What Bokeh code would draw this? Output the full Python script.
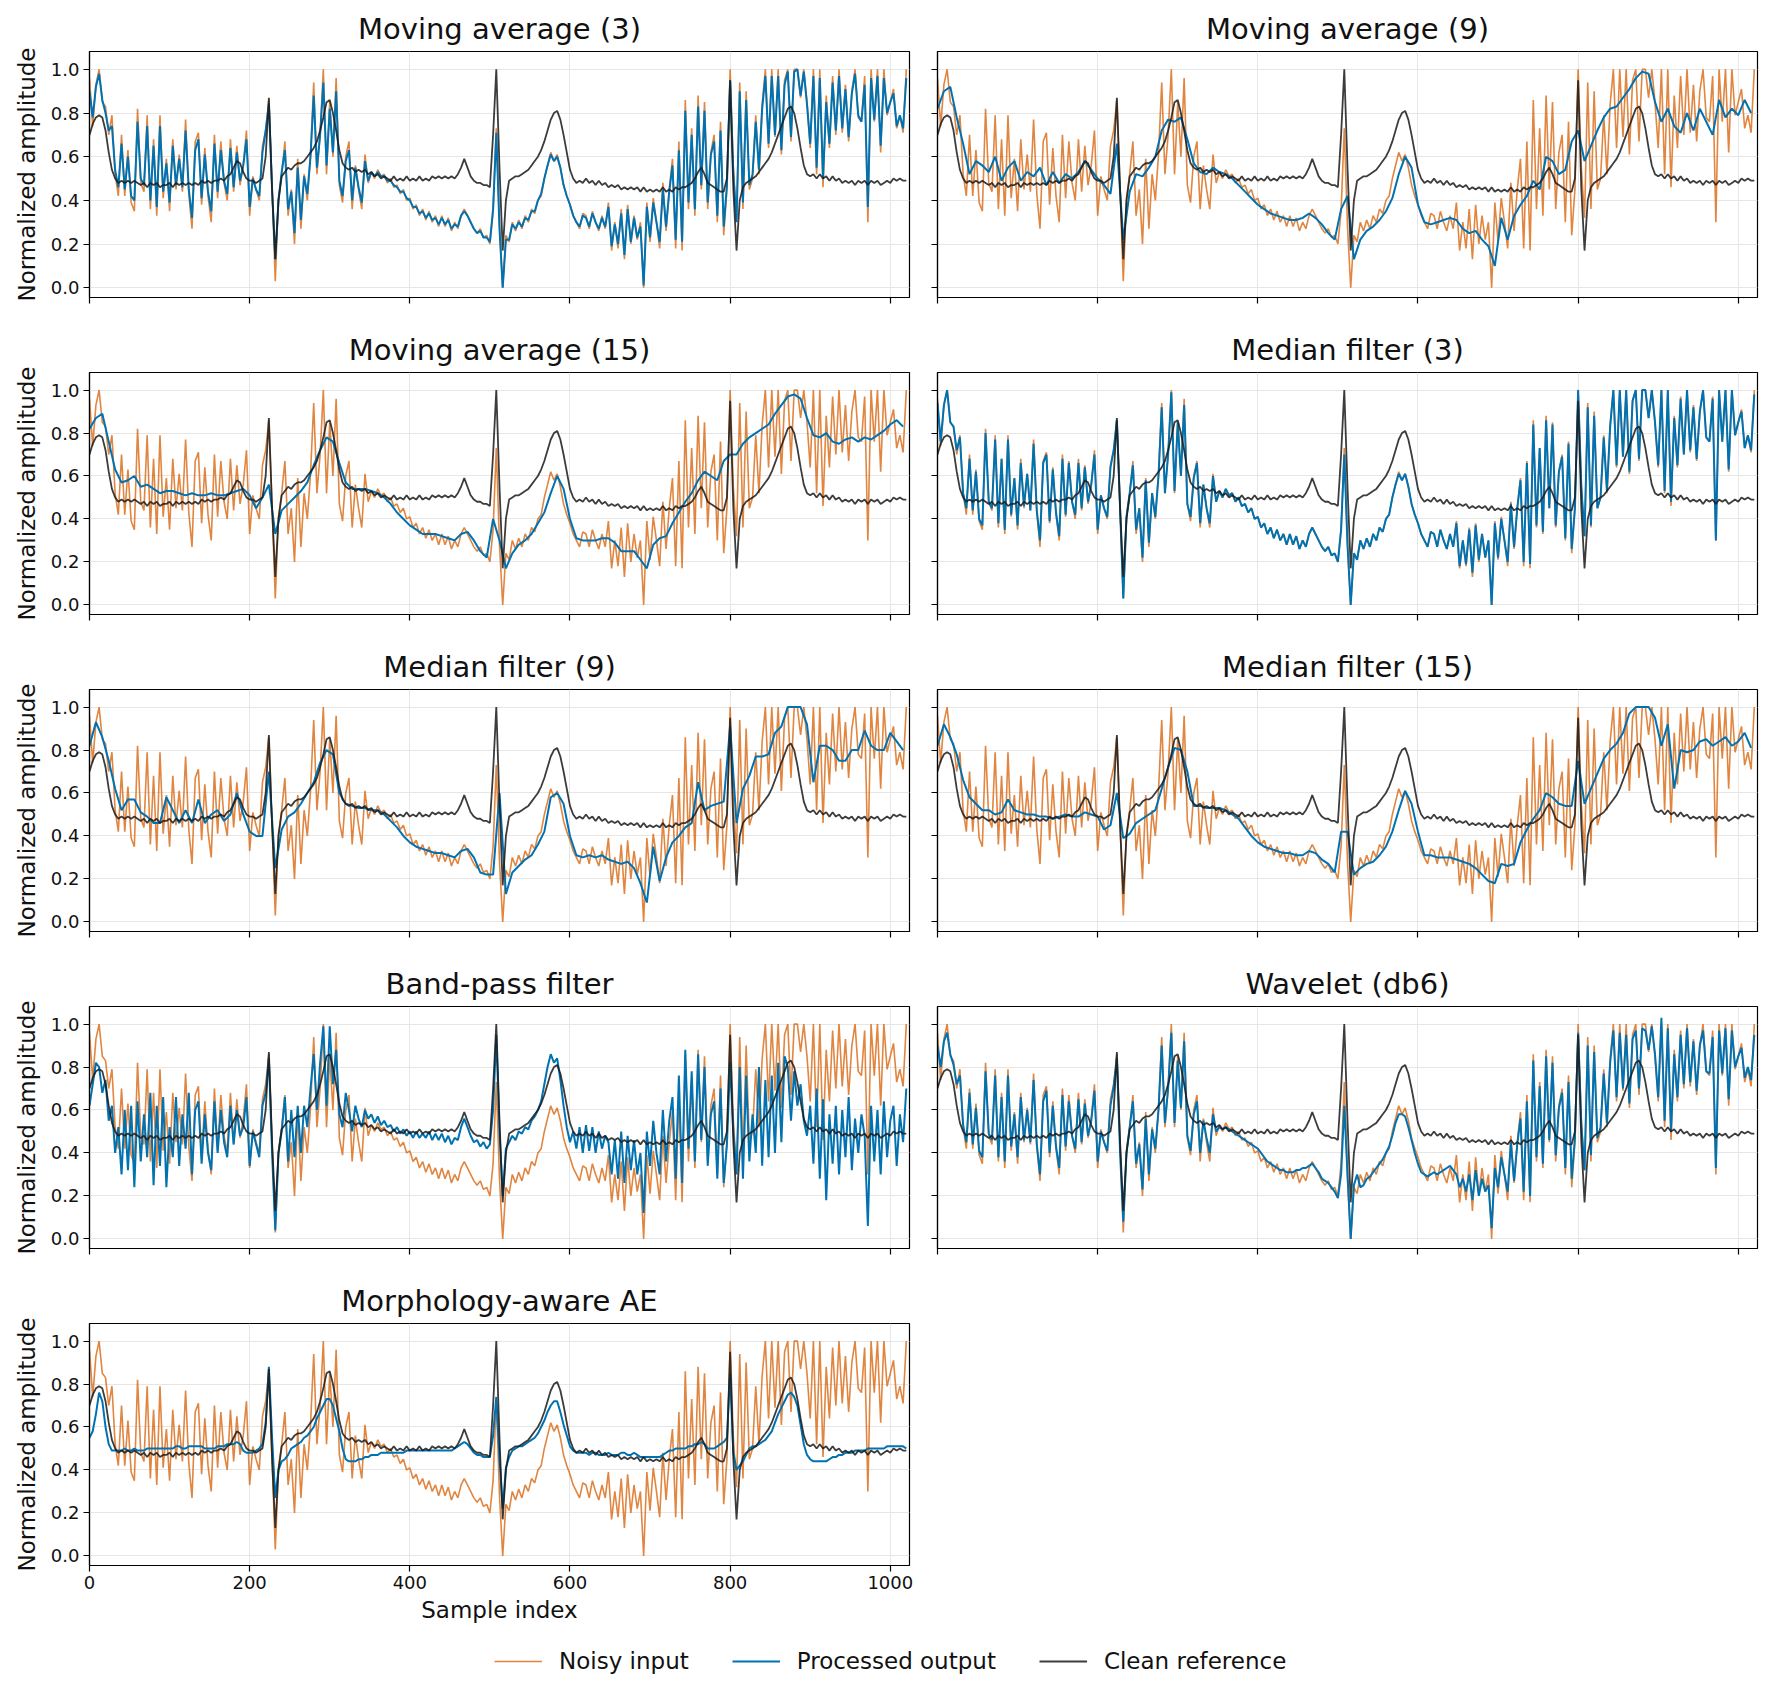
from bokeh.plotting import figure
from bokeh.layouts import column, row
from bokeh.models import (Range1d, FixedTicker, PrintfTickFormatter, CustomJSTickFormatter,
                          Legend, LegendItem)
from bokeh.embed import file_html
from bokeh.resources import INLINE

# sample positions: most series read every 4th sample, smoother outputs every 8th
idx4 = list(range(0, 1024, 4))
idx8 = list(range(0, 1024, 8))

clean_reference = [
    0.70, 0.75, 0.78, 0.79, 0.78, 0.72, 0.62, 0.54, 0.50, 0.48, 0.49, 0.48, 0.49, 0.48, 0.49, 0.48,
    0.47, 0.48, 0.46, 0.48, 0.47, 0.48, 0.46, 0.47, 0.47, 0.48, 0.46, 0.48, 0.47, 0.48, 0.47, 0.48,
    0.47, 0.48, 0.47, 0.49, 0.48, 0.49, 0.48, 0.49, 0.49, 0.50, 0.49, 0.51, 0.52, 0.55, 0.58, 0.57,
    0.53, 0.50, 0.49, 0.49, 0.48, 0.49, 0.50, 0.60, 0.87, 0.45, 0.13, 0.40, 0.51, 0.53, 0.55, 0.54,
    0.56, 0.57, 0.57, 0.58, 0.60, 0.62, 0.64, 0.67, 0.72, 0.78, 0.85, 0.86, 0.80, 0.72, 0.63, 0.57,
    0.55, 0.54, 0.55, 0.53, 0.54, 0.53, 0.54, 0.52, 0.53, 0.51, 0.52, 0.50, 0.51, 0.50, 0.49, 0.51,
    0.49, 0.50, 0.49, 0.51, 0.49, 0.50, 0.49, 0.51, 0.49, 0.50, 0.49, 0.51, 0.50, 0.51, 0.50, 0.51,
    0.50, 0.51, 0.50, 0.52, 0.55, 0.59, 0.55, 0.51, 0.49, 0.48, 0.48, 0.47, 0.47, 0.46, 0.70, 1.00,
    0.55, 0.17, 0.40, 0.49, 0.50, 0.51, 0.51, 0.52, 0.53, 0.54, 0.56, 0.58, 0.60, 0.63, 0.67, 0.72,
    0.77, 0.80, 0.81, 0.77, 0.70, 0.62, 0.54, 0.50, 0.48, 0.49, 0.48, 0.50, 0.48, 0.49, 0.47, 0.49,
    0.47, 0.48, 0.46, 0.47, 0.46, 0.47, 0.45, 0.46, 0.45, 0.46, 0.45, 0.46, 0.44, 0.46, 0.44, 0.45,
    0.44, 0.45, 0.44, 0.46, 0.44, 0.45, 0.44, 0.46, 0.45, 0.46, 0.46, 0.47, 0.48, 0.50, 0.53, 0.55,
    0.52, 0.48, 0.47, 0.46, 0.45, 0.44, 0.44, 0.50, 0.95, 0.45, 0.17, 0.40, 0.46, 0.48, 0.49, 0.50,
    0.51, 0.53, 0.55, 0.57, 0.59, 0.62, 0.66, 0.70, 0.74, 0.78, 0.82, 0.83, 0.80, 0.73, 0.64, 0.56,
    0.52, 0.51, 0.52, 0.50, 0.52, 0.50, 0.51, 0.49, 0.51, 0.49, 0.50, 0.48, 0.49, 0.48, 0.49, 0.47,
    0.49, 0.48, 0.49, 0.47, 0.49, 0.48, 0.49, 0.47, 0.48, 0.49, 0.48, 0.50, 0.49, 0.50, 0.49, 0.49,
]

noisy_input = [
    0.96, 0.74, 0.93, 1.00, 0.85, 0.83, 0.70, 0.79, 0.52, 0.42, 0.70, 0.42, 0.63, 0.39, 0.35, 0.82,
    0.48, 0.44, 0.79, 0.36, 0.68, 0.33, 0.79, 0.41, 0.59, 0.35, 0.68, 0.45, 0.61, 0.44, 0.77, 0.43,
    0.27, 0.67, 0.71, 0.38, 0.64, 0.42, 0.30, 0.70, 0.41, 0.67, 0.48, 0.40, 0.68, 0.44, 0.65, 0.47,
    0.56, 0.72, 0.33, 0.51, 0.45, 0.40, 0.65, 0.72, 0.86, 0.45, 0.03, 0.41, 0.52, 0.67, 0.33, 0.45,
    0.20, 0.59, 0.27, 0.52, 0.40, 0.61, 0.94, 0.52, 0.70, 1.00, 0.52, 0.85, 0.60, 0.96, 0.47, 0.39,
    0.60, 0.67, 0.36, 0.56, 0.45, 0.36, 0.61, 0.48, 0.53, 0.50, 0.54, 0.51, 0.52, 0.48, 0.50, 0.46,
    0.47, 0.43, 0.45, 0.40, 0.41, 0.36, 0.38, 0.33, 0.36, 0.31, 0.35, 0.30, 0.33, 0.28, 0.33, 0.28,
    0.32, 0.26, 0.30, 0.27, 0.33, 0.36, 0.33, 0.30, 0.27, 0.25, 0.27, 0.23, 0.24, 0.20, 0.35, 0.73,
    0.28, 0.00, 0.24, 0.21, 0.30, 0.26, 0.31, 0.27, 0.33, 0.30, 0.36, 0.34, 0.40, 0.42, 0.50, 0.56,
    0.62, 0.58, 0.61, 0.55, 0.47, 0.42, 0.38, 0.33, 0.30, 0.27, 0.34, 0.33, 0.27, 0.35, 0.30, 0.26,
    0.33, 0.27, 0.39, 0.17, 0.30, 0.18, 0.36, 0.13, 0.38, 0.20, 0.33, 0.22, 0.30, 0.00, 0.39, 0.21,
    0.41, 0.30, 0.18, 0.48, 0.26, 0.45, 0.59, 0.18, 0.67, 0.17, 0.86, 0.36, 0.73, 0.33, 0.88, 0.45,
    0.85, 0.36, 0.62, 0.70, 0.30, 0.76, 0.24, 0.45, 1.00, 0.55, 0.32, 0.94, 0.36, 0.90, 0.45, 0.50,
    0.79, 0.52, 0.84, 1.00, 0.64, 1.00, 0.69, 1.00, 0.61, 0.95, 1.00, 0.67, 1.00, 1.00, 0.87, 1.00,
    0.85, 0.64, 1.00, 0.52, 1.00, 0.46, 0.88, 0.64, 0.97, 0.70, 1.00, 0.71, 0.93, 0.67, 0.90, 1.00,
    0.78, 0.76, 0.97, 0.30, 1.00, 0.76, 1.00, 0.62, 1.00, 0.79, 0.85, 0.91, 0.73, 0.79, 0.71, 1.00,
]

ma3_output = [
    0.90, 0.78, 0.92, 0.98, 0.86, 0.80, 0.72, 0.74, 0.54, 0.46, 0.66, 0.45, 0.60, 0.42, 0.40, 0.76,
    0.50, 0.47, 0.74, 0.40, 0.65, 0.37, 0.74, 0.44, 0.57, 0.39, 0.65, 0.47, 0.59, 0.46, 0.72, 0.45,
    0.32, 0.63, 0.68, 0.41, 0.61, 0.44, 0.35, 0.66, 0.44, 0.63, 0.49, 0.43, 0.64, 0.46, 0.62, 0.49,
    0.56, 0.68, 0.37, 0.50, 0.45, 0.42, 0.62, 0.72, 0.84, 0.45, 0.13, 0.40, 0.53, 0.63, 0.36, 0.44,
    0.25, 0.55, 0.31, 0.51, 0.43, 0.60, 0.88, 0.55, 0.70, 0.94, 0.56, 0.82, 0.62, 0.90, 0.49, 0.42,
    0.58, 0.63, 0.40, 0.55, 0.46, 0.39, 0.58, 0.49, 0.53, 0.51, 0.53, 0.51, 0.51, 0.49, 0.49, 0.47,
    0.46, 0.44, 0.44, 0.41, 0.40, 0.37, 0.37, 0.34, 0.35, 0.32, 0.34, 0.31, 0.32, 0.29, 0.32, 0.29,
    0.31, 0.27, 0.29, 0.28, 0.33, 0.35, 0.33, 0.30, 0.27, 0.25, 0.26, 0.23, 0.23, 0.21, 0.36, 0.71,
    0.27, 0.00, 0.22, 0.22, 0.29, 0.27, 0.30, 0.28, 0.32, 0.31, 0.35, 0.35, 0.40, 0.43, 0.50, 0.56,
    0.61, 0.58, 0.60, 0.55, 0.47, 0.42, 0.38, 0.33, 0.30, 0.28, 0.33, 0.32, 0.28, 0.34, 0.30, 0.27,
    0.32, 0.28, 0.37, 0.19, 0.29, 0.20, 0.34, 0.15, 0.36, 0.21, 0.32, 0.23, 0.28, 0.01, 0.37, 0.23,
    0.39, 0.30, 0.21, 0.45, 0.28, 0.44, 0.56, 0.22, 0.63, 0.21, 0.81, 0.39, 0.70, 0.36, 0.83, 0.47,
    0.81, 0.39, 0.61, 0.67, 0.33, 0.72, 0.28, 0.47, 0.95, 0.52, 0.30, 0.90, 0.39, 0.86, 0.47, 0.52,
    0.76, 0.54, 0.82, 0.97, 0.66, 0.97, 0.70, 0.97, 0.63, 0.93, 0.99, 0.69, 0.99, 1.00, 0.88, 0.99,
    0.84, 0.66, 0.97, 0.55, 0.96, 0.50, 0.85, 0.66, 0.94, 0.72, 0.97, 0.73, 0.91, 0.69, 0.89, 0.98,
    0.79, 0.76, 0.93, 0.37, 0.96, 0.77, 0.97, 0.65, 0.96, 0.80, 0.85, 0.89, 0.74, 0.79, 0.73, 0.96,
]

ma9_output = [
    0.82, 0.90, 0.92, 0.78, 0.66, 0.52, 0.58, 0.56, 0.53, 0.60, 0.49, 0.55, 0.58, 0.49, 0.53, 0.51,
    0.55, 0.47, 0.53, 0.48, 0.52, 0.50, 0.53, 0.58, 0.54, 0.50, 0.47, 0.43, 0.66, 0.22, 0.44, 0.52,
    0.51, 0.55, 0.60, 0.72, 0.77, 0.76, 0.78, 0.68, 0.57, 0.53, 0.52, 0.55, 0.53, 0.52, 0.50, 0.47,
    0.44, 0.41, 0.38, 0.36, 0.34, 0.33, 0.32, 0.31, 0.31, 0.32, 0.34, 0.32, 0.29, 0.25, 0.22, 0.36,
    0.42, 0.13, 0.22, 0.26, 0.28, 0.31, 0.35, 0.41, 0.52, 0.60, 0.55, 0.38, 0.30, 0.29, 0.30, 0.31,
    0.32, 0.31, 0.27, 0.25, 0.26, 0.22, 0.19, 0.10, 0.32, 0.22, 0.33, 0.38, 0.42, 0.49, 0.45, 0.60,
    0.58, 0.52, 0.54, 0.67, 0.72, 0.58, 0.65, 0.72, 0.78, 0.82, 0.83, 0.87, 0.91, 0.96, 0.99, 0.98,
    0.85, 0.76, 0.82, 0.74, 0.71, 0.80, 0.72, 0.82, 0.76, 0.70, 0.86, 0.78, 0.82, 0.79, 0.86, 0.80,
]

ma15_output = [
    0.82, 0.87, 0.89, 0.76, 0.63, 0.57, 0.58, 0.60, 0.55, 0.56, 0.54, 0.52, 0.53, 0.53, 0.52, 0.51,
    0.52, 0.51, 0.51, 0.52, 0.51, 0.51, 0.52, 0.53, 0.54, 0.51, 0.45, 0.50, 0.56, 0.33, 0.44, 0.47,
    0.50, 0.53, 0.57, 0.65, 0.72, 0.78, 0.76, 0.66, 0.57, 0.54, 0.54, 0.54, 0.53, 0.52, 0.50, 0.47,
    0.43, 0.40, 0.37, 0.35, 0.33, 0.33, 0.33, 0.32, 0.31, 0.30, 0.33, 0.34, 0.30, 0.25, 0.22, 0.40,
    0.30, 0.17, 0.24, 0.28, 0.30, 0.33, 0.38, 0.43, 0.52, 0.60, 0.54, 0.40, 0.31, 0.30, 0.30, 0.30,
    0.31, 0.31, 0.29, 0.25, 0.25, 0.25, 0.21, 0.17, 0.28, 0.31, 0.32, 0.38, 0.43, 0.48, 0.52, 0.58,
    0.62, 0.60, 0.58, 0.67, 0.70, 0.70, 0.75, 0.78, 0.80, 0.82, 0.84, 0.89, 0.93, 0.97, 0.98, 0.96,
    0.87, 0.79, 0.78, 0.80, 0.76, 0.75, 0.77, 0.78, 0.76, 0.78, 0.77, 0.79, 0.81, 0.84, 0.86, 0.83,
]

median3_output = [
    0.94, 0.76, 0.93, 1.00, 0.85, 0.83, 0.72, 0.78, 0.52, 0.45, 0.68, 0.44, 0.62, 0.40, 0.37, 0.80,
    0.48, 0.45, 0.77, 0.38, 0.68, 0.35, 0.77, 0.42, 0.59, 0.37, 0.66, 0.46, 0.61, 0.44, 0.75, 0.44,
    0.30, 0.66, 0.70, 0.39, 0.63, 0.43, 0.32, 0.68, 0.42, 0.66, 0.48, 0.42, 0.66, 0.45, 0.64, 0.48,
    0.56, 0.70, 0.35, 0.51, 0.45, 0.41, 0.64, 0.72, 0.86, 0.45, 0.03, 0.41, 0.52, 0.65, 0.35, 0.45,
    0.22, 0.58, 0.29, 0.52, 0.41, 0.60, 0.92, 0.52, 0.70, 0.99, 0.53, 0.85, 0.60, 0.93, 0.47, 0.41,
    0.59, 0.66, 0.38, 0.56, 0.45, 0.38, 0.60, 0.48, 0.53, 0.50, 0.54, 0.51, 0.52, 0.48, 0.50, 0.46,
    0.47, 0.43, 0.45, 0.40, 0.41, 0.36, 0.38, 0.33, 0.36, 0.31, 0.35, 0.30, 0.33, 0.28, 0.33, 0.28,
    0.32, 0.26, 0.30, 0.27, 0.33, 0.36, 0.33, 0.30, 0.27, 0.25, 0.27, 0.23, 0.24, 0.20, 0.35, 0.70,
    0.28, 0.00, 0.24, 0.21, 0.30, 0.26, 0.31, 0.27, 0.33, 0.30, 0.36, 0.34, 0.40, 0.42, 0.50, 0.56,
    0.61, 0.58, 0.61, 0.55, 0.47, 0.42, 0.38, 0.33, 0.30, 0.27, 0.34, 0.33, 0.27, 0.35, 0.30, 0.26,
    0.33, 0.27, 0.38, 0.18, 0.30, 0.19, 0.35, 0.15, 0.37, 0.21, 0.33, 0.22, 0.30, 0.00, 0.38, 0.22,
    0.40, 0.30, 0.20, 0.47, 0.27, 0.45, 0.58, 0.20, 0.66, 0.19, 0.84, 0.37, 0.73, 0.34, 0.86, 0.45,
    0.84, 0.37, 0.62, 0.69, 0.31, 0.75, 0.26, 0.45, 1.00, 0.55, 0.32, 0.92, 0.37, 0.88, 0.45, 0.50,
    0.78, 0.53, 0.83, 1.00, 0.65, 1.00, 0.69, 1.00, 0.62, 0.95, 1.00, 0.68, 1.00, 1.00, 0.87, 1.00,
    0.85, 0.65, 1.00, 0.53, 1.00, 0.48, 0.87, 0.65, 0.96, 0.70, 1.00, 0.72, 0.92, 0.68, 0.90, 1.00,
    0.78, 0.76, 0.96, 0.30, 1.00, 0.76, 1.00, 0.63, 1.00, 0.79, 0.85, 0.90, 0.73, 0.79, 0.72, 0.98,
]

median9_output = [
    0.82, 0.93, 0.86, 0.75, 0.62, 0.52, 0.57, 0.57, 0.51, 0.49, 0.46, 0.46, 0.58, 0.52, 0.46, 0.52,
    0.46, 0.57, 0.46, 0.50, 0.52, 0.47, 0.50, 0.60, 0.50, 0.42, 0.40, 0.40, 0.70, 0.25, 0.43, 0.49,
    0.51, 0.55, 0.60, 0.65, 0.74, 0.80, 0.78, 0.60, 0.55, 0.54, 0.53, 0.53, 0.52, 0.52, 0.50, 0.47,
    0.44, 0.40, 0.37, 0.35, 0.34, 0.33, 0.32, 0.32, 0.31, 0.30, 0.33, 0.34, 0.30, 0.23, 0.22, 0.22,
    0.60, 0.13, 0.23, 0.26, 0.29, 0.31, 0.36, 0.42, 0.58, 0.60, 0.55, 0.40, 0.31, 0.30, 0.31, 0.30,
    0.31, 0.29, 0.28, 0.27, 0.28, 0.25, 0.18, 0.09, 0.35, 0.19, 0.30, 0.37, 0.40, 0.44, 0.46, 0.65,
    0.52, 0.54, 0.55, 0.56, 0.91, 0.46, 0.62, 0.68, 0.77, 0.77, 0.78, 0.88, 0.91, 1.00, 1.00, 1.00,
    0.92, 0.65, 0.82, 0.82, 0.80, 0.75, 0.75, 0.80, 0.80, 0.89, 0.82, 0.80, 0.80, 0.88, 0.84, 0.80,
]

median15_output = [
    0.82, 0.92, 0.86, 0.78, 0.66, 0.58, 0.55, 0.52, 0.52, 0.50, 0.51, 0.57, 0.52, 0.51, 0.50, 0.50,
    0.49, 0.49, 0.48, 0.49, 0.50, 0.49, 0.49, 0.51, 0.50, 0.49, 0.43, 0.45, 0.60, 0.39, 0.41, 0.46,
    0.48, 0.50, 0.52, 0.62, 0.72, 0.81, 0.80, 0.70, 0.54, 0.54, 0.53, 0.53, 0.53, 0.52, 0.50, 0.48,
    0.44, 0.40, 0.37, 0.35, 0.34, 0.33, 0.32, 0.32, 0.31, 0.31, 0.33, 0.32, 0.29, 0.27, 0.23, 0.42,
    0.42, 0.22, 0.25, 0.27, 0.28, 0.31, 0.35, 0.42, 0.52, 0.61, 0.55, 0.42, 0.31, 0.31, 0.30, 0.30,
    0.30, 0.29, 0.28, 0.27, 0.25, 0.22, 0.19, 0.18, 0.27, 0.26, 0.27, 0.37, 0.43, 0.48, 0.52, 0.60,
    0.58, 0.55, 0.54, 0.54, 0.75, 0.55, 0.62, 0.69, 0.76, 0.80, 0.83, 0.88, 0.97, 1.00, 1.00, 1.00,
    0.95, 0.82, 0.92, 0.62, 0.80, 0.79, 0.80, 0.84, 0.85, 0.82, 0.84, 0.86, 0.82, 0.84, 0.88, 0.81,
]

bandpass_output = [
    0.62, 0.72, 0.82, 0.80, 0.68, 0.74, 0.55, 0.62, 0.40, 0.52, 0.30, 0.60, 0.32, 0.62, 0.24, 0.64,
    0.36, 0.58, 0.38, 0.68, 0.25, 0.62, 0.34, 0.66, 0.24, 0.52, 0.38, 0.66, 0.34, 0.58, 0.42, 0.68,
    0.30, 0.60, 0.64, 0.35, 0.58, 0.40, 0.32, 0.64, 0.40, 0.60, 0.45, 0.38, 0.62, 0.44, 0.60, 0.48,
    0.52, 0.66, 0.34, 0.50, 0.44, 0.38, 0.62, 0.68, 0.84, 0.40, 0.04, 0.40, 0.50, 0.66, 0.36, 0.60,
    0.38, 0.62, 0.40, 0.62, 0.52, 0.70, 0.86, 0.60, 0.82, 0.99, 0.62, 0.99, 0.72, 0.88, 0.58, 0.52,
    0.68, 0.60, 0.50, 0.62, 0.56, 0.52, 0.60, 0.56, 0.58, 0.54, 0.57, 0.53, 0.55, 0.52, 0.53, 0.50,
    0.52, 0.49, 0.51, 0.48, 0.50, 0.47, 0.50, 0.47, 0.49, 0.47, 0.50, 0.46, 0.49, 0.46, 0.49, 0.45,
    0.48, 0.44, 0.47, 0.46, 0.52, 0.56, 0.52, 0.48, 0.45, 0.46, 0.43, 0.45, 0.42, 0.44, 0.60, 0.95,
    0.50, 0.20, 0.42, 0.45, 0.48, 0.46, 0.50, 0.49, 0.52, 0.51, 0.55, 0.57, 0.60, 0.64, 0.72, 0.80,
    0.86, 0.82, 0.84, 0.74, 0.62, 0.52, 0.45, 0.50, 0.42, 0.52, 0.40, 0.53, 0.41, 0.52, 0.40, 0.50,
    0.42, 0.48, 0.45, 0.30, 0.46, 0.28, 0.50, 0.26, 0.48, 0.32, 0.46, 0.30, 0.40, 0.12, 0.50, 0.34,
    0.55, 0.40, 0.30, 0.60, 0.36, 0.55, 0.66, 0.28, 0.76, 0.26, 0.88, 0.42, 0.78, 0.36, 0.86, 0.46,
    0.80, 0.34, 0.58, 0.64, 0.28, 0.70, 0.26, 0.44, 0.82, 0.50, 0.30, 0.80, 0.28, 0.76, 0.36, 0.58,
    0.40, 0.80, 0.34, 0.74, 0.38, 0.76, 0.40, 0.82, 0.45, 0.85, 0.80, 0.55, 0.78, 0.62, 0.72, 0.55,
    0.48, 0.62, 0.35, 0.70, 0.28, 0.65, 0.18, 0.58, 0.35, 0.62, 0.30, 0.60, 0.38, 0.66, 0.32, 0.56,
    0.40, 0.58, 0.48, 0.06, 0.62, 0.36, 0.60, 0.30, 0.64, 0.38, 0.55, 0.62, 0.34, 0.58, 0.45, 0.70,
]

wavelet_output = [
    0.90, 0.80, 0.92, 0.96, 0.86, 0.81, 0.72, 0.76, 0.53, 0.45, 0.68, 0.44, 0.61, 0.41, 0.38, 0.78,
    0.49, 0.46, 0.76, 0.38, 0.66, 0.36, 0.76, 0.43, 0.58, 0.38, 0.66, 0.46, 0.60, 0.45, 0.74, 0.44,
    0.30, 0.64, 0.69, 0.40, 0.62, 0.43, 0.33, 0.67, 0.43, 0.64, 0.48, 0.42, 0.65, 0.45, 0.63, 0.48,
    0.55, 0.69, 0.36, 0.50, 0.45, 0.41, 0.62, 0.71, 0.84, 0.40, 0.08, 0.40, 0.52, 0.64, 0.35, 0.44,
    0.23, 0.56, 0.30, 0.51, 0.42, 0.60, 0.90, 0.54, 0.70, 0.96, 0.54, 0.83, 0.61, 0.92, 0.48, 0.41,
    0.58, 0.64, 0.40, 0.55, 0.47, 0.40, 0.58, 0.50, 0.52, 0.51, 0.52, 0.51, 0.50, 0.49, 0.48, 0.47,
    0.46, 0.45, 0.44, 0.43, 0.42, 0.40, 0.38, 0.36, 0.35, 0.34, 0.33, 0.32, 0.32, 0.31, 0.31, 0.31,
    0.32, 0.32, 0.33, 0.33, 0.34, 0.35, 0.33, 0.31, 0.28, 0.27, 0.26, 0.24, 0.22, 0.19, 0.30, 0.62,
    0.30, 0.00, 0.25, 0.30, 0.24, 0.25, 0.28, 0.29, 0.31, 0.33, 0.35, 0.37, 0.40, 0.43, 0.48, 0.54,
    0.58, 0.58, 0.57, 0.52, 0.46, 0.40, 0.35, 0.31, 0.30, 0.29, 0.30, 0.31, 0.30, 0.31, 0.32, 0.33,
    0.34, 0.32, 0.30, 0.24, 0.28, 0.22, 0.30, 0.18, 0.32, 0.20, 0.28, 0.22, 0.25, 0.05, 0.33, 0.24,
    0.38, 0.30, 0.22, 0.45, 0.27, 0.44, 0.56, 0.22, 0.64, 0.20, 0.83, 0.38, 0.71, 0.35, 0.85, 0.46,
    0.82, 0.39, 0.61, 0.68, 0.33, 0.73, 0.28, 0.47, 0.96, 0.53, 0.32, 0.90, 0.39, 0.87, 0.47, 0.52,
    0.77, 0.54, 0.82, 0.97, 0.66, 0.96, 0.70, 0.95, 0.63, 0.93, 0.97, 0.70, 0.98, 0.97, 0.88, 0.99,
    0.86, 0.66, 1.03, 0.55, 0.98, 0.50, 0.86, 0.66, 0.95, 0.72, 0.98, 0.73, 0.92, 0.69, 0.90, 0.97,
    0.78, 0.77, 0.94, 0.33, 0.97, 0.77, 0.98, 0.65, 0.97, 0.80, 0.85, 0.89, 0.75, 0.80, 0.74, 0.95,
]

ae_output = [
    0.55, 0.58, 0.66, 0.76, 0.72, 0.60, 0.52, 0.49, 0.49, 0.49, 0.49, 0.50, 0.49, 0.49, 0.50, 0.49,
    0.49, 0.49, 0.50, 0.50, 0.50, 0.50, 0.50, 0.50, 0.50, 0.50, 0.50, 0.51, 0.51, 0.50, 0.50, 0.51,
    0.51, 0.51, 0.51, 0.51, 0.50, 0.50, 0.50, 0.50, 0.51, 0.51, 0.51, 0.52, 0.52, 0.52, 0.53, 0.52,
    0.49, 0.48, 0.48, 0.48, 0.49, 0.50, 0.52, 0.62, 0.88, 0.55, 0.27, 0.40, 0.44, 0.45, 0.47, 0.50,
    0.51, 0.52, 0.53, 0.55, 0.56, 0.58, 0.60, 0.64, 0.67, 0.70, 0.73, 0.73, 0.70, 0.64, 0.58, 0.50,
    0.45, 0.44, 0.44, 0.44, 0.45, 0.45, 0.46, 0.46, 0.47, 0.47, 0.47, 0.48, 0.48, 0.48, 0.48, 0.48,
    0.48, 0.48, 0.48, 0.49, 0.49, 0.49, 0.49, 0.49, 0.49, 0.49, 0.49, 0.49, 0.49, 0.49, 0.49, 0.49,
    0.49, 0.49, 0.50, 0.51, 0.52, 0.53, 0.52, 0.50, 0.48, 0.47, 0.47, 0.46, 0.46, 0.46, 0.56, 0.74,
    0.45, 0.22, 0.41, 0.46, 0.49, 0.50, 0.51, 0.51, 0.52, 0.53, 0.54, 0.55, 0.57, 0.60, 0.63, 0.67,
    0.70, 0.72, 0.72, 0.67, 0.61, 0.56, 0.51, 0.49, 0.48, 0.48, 0.48, 0.48, 0.47, 0.48, 0.48, 0.47,
    0.47, 0.47, 0.48, 0.47, 0.47, 0.47, 0.48, 0.48, 0.47, 0.47, 0.48, 0.47, 0.46, 0.46, 0.46, 0.46,
    0.46, 0.46, 0.46, 0.47, 0.48, 0.49, 0.49, 0.50, 0.50, 0.50, 0.50, 0.51, 0.51, 0.52, 0.52, 0.53,
    0.52, 0.50, 0.50, 0.50, 0.51, 0.52, 0.53, 0.55, 0.85, 0.48, 0.40, 0.42, 0.44, 0.47, 0.50, 0.51,
    0.51, 0.52, 0.53, 0.54, 0.56, 0.58, 0.62, 0.66, 0.69, 0.72, 0.75, 0.76, 0.74, 0.70, 0.61, 0.52,
    0.47, 0.45, 0.44, 0.44, 0.44, 0.44, 0.44, 0.45, 0.46, 0.46, 0.47, 0.47, 0.48, 0.48, 0.48, 0.49,
    0.49, 0.49, 0.49, 0.50, 0.50, 0.50, 0.50, 0.50, 0.50, 0.51, 0.51, 0.51, 0.51, 0.51, 0.51, 0.50,
]

panel_titles = [
    "Moving average (3)", "Moving average (9)", "Moving average (15)",
    "Median filter (3)", "Median filter (9)", "Median filter (15)",
    "Band-pass filter", "Wavelet (db6)", "Morphology-aware AE",
]
panel_x = [idx4, idx8, idx8, idx4, idx8, idx8, idx4, idx4, idx4]
panel_y = [ma3_output, ma9_output, ma15_output, median3_output, median9_output,
           median15_output, bandpass_output, wavelet_output, ae_output]

x_ticks = [0, 200, 400, 600, 800, 1000]
y_ticks = [0.0, 0.2, 0.4, 0.6, 0.8, 1.0]

FONT = "DejaVu Sans"
NOISY = "#D55E00"
PROCESSED = "#0072B2"
CLEAN = "#1a1a1a"
BLANK = CustomJSTickFormatter(code="return '';")


def make_panel(title, xs, ys, left_col, first_row, bottom):
    top = 51 if first_row else 43
    bot = 66 if bottom else 28
    p = figure(width=919 if left_col else 848, height=top + 246 + bot,
               x_range=Range1d(0, 1024), y_range=Range1d(-0.045, 1.082),
               toolbar_location=None, output_backend="svg",
               min_border_left=89 if left_col else 18, min_border_right=10,
               min_border_top=top, min_border_bottom=bot)
    p.title.text = title
    p.title.align = "center"
    p.title.text_font = FONT
    p.title.text_font_size = "29px"
    p.title.text_font_style = "normal"
    p.title.text_color = "#111111"
    p.title.standoff = 11

    p.line(idx4, noisy_input, line_color=NOISY, line_alpha=0.75, line_width=1.6)
    p.line(xs, ys, line_color=PROCESSED, line_width=2)
    p.line(idx4, clean_reference, line_color=CLEAN, line_alpha=0.85, line_width=1.8)

    p.xaxis.ticker = FixedTicker(ticks=x_ticks)
    p.yaxis.ticker = FixedTicker(ticks=y_ticks)
    p.yaxis.formatter = PrintfTickFormatter(format="%.1f")
    p.xgrid.ticker = FixedTicker(ticks=x_ticks)
    p.ygrid.ticker = FixedTicker(ticks=y_ticks)
    p.grid.grid_line_color = "#e6e6e6"
    p.grid.grid_line_width = 1

    for ax in (p.xaxis[0], p.yaxis[0]):
        ax.axis_line_color = "black"
        ax.axis_line_width = 1.2
        ax.major_tick_line_color = "black"
        ax.major_tick_line_width = 1.2
        ax.major_tick_in = 0
        ax.major_tick_out = 6
        ax.minor_tick_line_color = None
        ax.major_label_text_font = FONT
        ax.major_label_text_font_size = "18px"
        ax.major_label_text_color = "#111111"
        ax.major_label_standoff = 4
        ax.axis_label_text_font = FONT
        ax.axis_label_text_font_size = "23px"
        ax.axis_label_text_font_style = "normal"
        ax.axis_label_text_color = "#111111"
        ax.axis_label_standoff = 8

    if left_col:
        p.yaxis.axis_label = "Normalized amplitude"
    else:
        p.yaxis.formatter = BLANK
    if bottom:
        p.xaxis.axis_label = "Sample index"
        p.xaxis.axis_label_standoff = 5
    else:
        p.xaxis.formatter = BLANK

    p.outline_line_color = "black"
    p.outline_line_width = 1.2
    return p


panels = []
for i, title in enumerate(panel_titles):
    panels.append(make_panel(title, panel_x[i], panel_y[i], i % 2 == 0, i < 2, i == 8))

# legend strip under the grid; its lines use the real series, kept out of view
# (the column aligns this figure's frame with the panels above, so x is frame-relative)
leg = figure(width=1767, height=50, toolbar_location=None, output_backend="svg",
             x_range=Range1d(-40, -20), y_range=Range1d(0, 1),
             x_axis_location=None, y_axis_location=None, min_border=0)
leg.grid.visible = False
leg.outline_line_color = None
r_noisy = leg.line(idx4, noisy_input, line_color=NOISY, line_alpha=0.75, line_width=1.6)
r_proc = leg.line(idx4, ae_output, line_color=PROCESSED, line_width=2)
r_clean = leg.line(idx4, clean_reference, line_color=CLEAN, line_alpha=0.85, line_width=1.8)
legend = Legend(items=[LegendItem(label="Noisy input", renderers=[r_noisy]),
                       LegendItem(label="Processed output", renderers=[r_proc]),
                       LegendItem(label="Clean reference", renderers=[r_clean])],
                orientation="horizontal", location=(405, 7),
                border_line_color=None, background_fill_alpha=0,
                label_text_font=FONT, label_text_font_size="23px", label_text_color="#111111",
                glyph_width=48, glyph_height=20, spacing=43, label_standoff=17,
                padding=0, margin=7)
leg.add_layout(legend)

layout = column(
    row(panels[0], panels[1]),
    row(panels[2], panels[3]),
    row(panels[4], panels[5]),
    row(panels[6], panels[7]),
    panels[8],
    leg,
)

open("out.html", "w").write(file_html(layout, INLINE))
